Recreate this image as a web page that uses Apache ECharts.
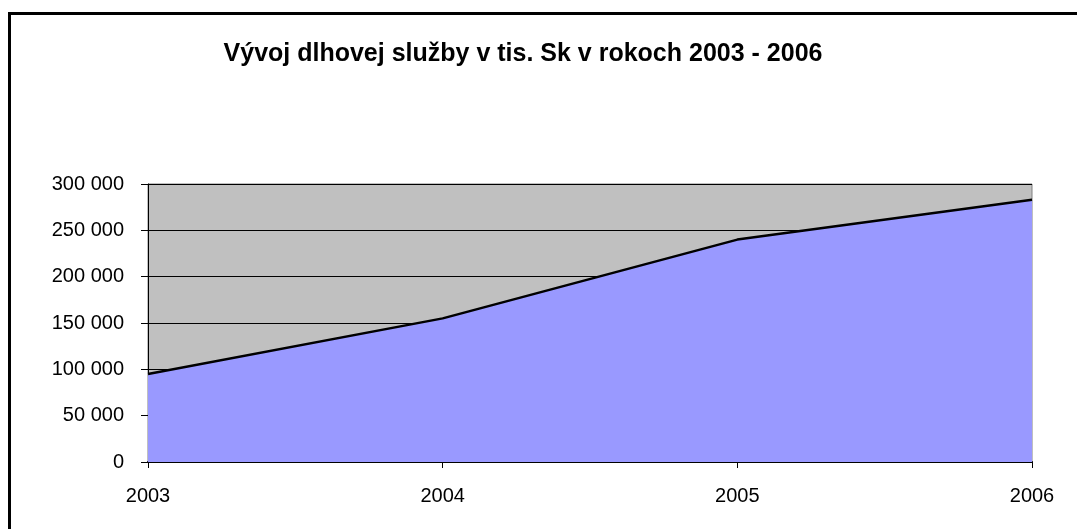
<!DOCTYPE html>
<html lang="sk">
<head>
    <meta charset="UTF-8">
    <title>Vývoj dlhovej služby</title>
    <script src="https://cdn.jsdelivr.net/npm/echarts@6/dist/echarts.min.js"></script>
    <style>
        html, body {
            margin: 0;
            padding: 0;
            background: #fff;
            overflow: hidden;
        }
        #chart {
            position: absolute;
            left: 0;
            top: 0;
            width: 1077px;
            height: 529px;
        }
        /* ramik okolo grafu, pravy a dolny okraj su mimo okna */
        .frame {
            position: absolute;
            left: 8px;
            top: 12px;
            width: 1200px;
            height: 600px;
            border: 3px solid #000;
            pointer-events: none;
        }
    </style>
</head>
<body>
    <div id="chart"></div>
    <div class="frame"></div>

    <script>
        const titleText = 'Vývoj dlhovej služby v tis. Sk v rokoch 2003 - 2006';
        const years = ['2003', '2004', '2005', '2006'];
        const debtService = [95000, 155000, 240000, 283000];

        // 300000 -> "300 000"
        function formatThousands(value) {
            return String(value).replace(/\B(?=(\d{3})+(?!\d))/g, ' ');
        }

        const chart = echarts.init(document.getElementById('chart'));

        const option = {
            animation: false,
            title: {
                text: titleText,
                left: 518,
                textAlign: 'center',
                top: 37,
                textStyle: {
                    fontFamily: 'Liberation Sans, Arial, sans-serif',
                    fontSize: 25,
                    fontWeight: 'bold',
                    color: '#000'
                }
            },
            grid: {
                left: 148,
                right: 45,
                top: 184,
                bottom: 67,
                show: true,
                backgroundColor: '#c0c0c0',
                borderColor: '#808080',
                borderWidth: 1
            },
            xAxis: {
                type: 'category',
                data: years,
                boundaryGap: false,
                axisLine: { lineStyle: { color: '#000', width: 2 } },
                axisTick: { show: true, length: 6, lineStyle: { color: '#000' } },
                axisLabel: {
                    margin: 24,
                    fontFamily: 'Liberation Sans, Arial, sans-serif',
                    fontSize: 20,
                    color: '#000'
                },
                splitLine: { show: false }
            },
            yAxis: {
                type: 'value',
                min: 0,
                max: 300000,
                interval: 50000,
                axisLine: { show: true, lineStyle: { color: '#000', width: 1 } },
                axisTick: { show: true, length: 7, lineStyle: { color: '#000' } },
                axisLabel: {
                    margin: 24,
                    formatter: formatThousands,
                    fontFamily: 'Liberation Sans, Arial, sans-serif',
                    fontSize: 20,
                    color: '#000'
                },
                splitLine: { show: true, lineStyle: { color: '#000', width: 1 } }
            },
            series: [{
                type: 'line',
                data: debtService,
                symbol: 'none',
                lineStyle: { color: '#000', width: 2.5 },
                areaStyle: { color: '#9999ff', opacity: 1 },
                z: 3
            }]
        };

        chart.setOption(option);
    </script>
</body>
</html>
